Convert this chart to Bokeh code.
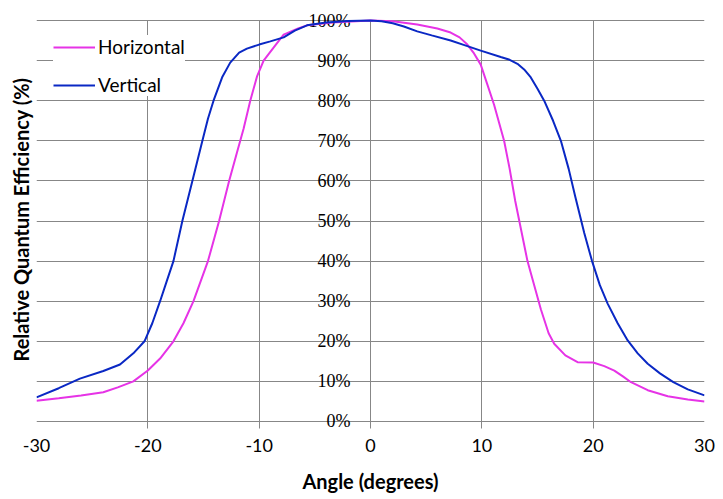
from bokeh.plotting import figure
from bokeh.models import FixedTicker, ColumnDataSource, Legend, LegendItem, LabelSet
from bokeh.embed import file_html
from bokeh.resources import INLINE

# Data (angle in degrees, relative QE in %)
horiz_angle = [-30, -28, -26, -24, -22.7, -21.3, -20, -18.9, -17.7, -16.8, -15.9, -14.6, -13.6,
               -12.7, -12, -11.4, -10.8, -10.2, -9.6, -8.5, -7.8, -6.5, -5.7, -3, 0, 2, 4.2,
               6, 7.2, 8.0, 8.7, 9.3, 9.9, 10.5, 11.1, 11.7, 12.0, 12.5, 13, 14.1, 15.3, 16,
               16.5, 17.5, 18.6, 20, 21, 21.9, 22.7, 23.4, 24.9, 26.7, 28.5, 30]
horiz_qe = [5.2, 5.8, 6.5, 7.3, 8.5, 10, 12.7, 15.7, 20, 24.5, 30, 40, 50,
            60, 67, 73, 80, 86, 90, 94, 96.5, 98, 98.8, 99.6, 100, 99.8, 99,
            98, 97, 95.8, 94, 91.8, 89, 84, 79, 73, 70, 63, 55, 40, 28, 22,
            19.4, 16.5, 14.8, 14.7, 13.8, 12.7, 11.2, 9.8, 7.8, 6.3, 5.5, 5]

vert_angle = [-30, -28, -26.1, -24, -22.5, -21.3, -20.3, -19.6, -18.9, -18.3, -17.7, -16.9,
              -16.0, -15.1, -14.6, -14.1, -13.3, -12.6, -11.8, -11.1, -10, -9, -7.8, -6.8,
              -5.7, -4, -2, 0, 1, 2, 3, 4.2, 5.5, 7.2, 8.5, 9.9, 11.7, 12.5, 13.2, 13.8,
              14.4, 15, 15.6, 16.4, 17.1, 17.8, 18.4, 19.2, 19.9, 20.6, 21.3, 22.2, 23.1,
              24, 24.9, 26, 27.2, 28.5, 30]
vert_qe = [6, 8.3, 10.7, 12.6, 14.2, 17, 20, 24.5, 30, 35, 40, 50,
           60, 70, 75.5, 80, 86, 89.5, 92, 93, 94, 94.8, 95.8, 97.5,
           98.8, 99.5, 99.9, 100, 99.8, 99.3, 98.5, 97.3, 96.3, 95, 93.8, 92.5, 90.9, 90.2, 89.2, 87.8,
           85.8, 83, 80, 75, 70, 63, 56, 47, 40, 34, 29.4, 24.5, 20.2,
           17, 14.4, 12, 9.8, 8, 6.5]

x_ticks = [-30, -20, -10, 0, 10, 20, 30]
x_tick_labels = ["-30", "-20", "-10", "0", "10", "20", "30"]
y_ticks = [0, 10, 20, 30, 40, 50, 60, 70, 80, 90, 100]
y_tick_labels = ["0%", "10%", "20%", "30%", "40%", "50%", "60%", "70%", "80%", "90%", "100%"]

FONT = "Lato"
GRID = "#878787"
MAGENTA = "#E633E6"
BLUE = "#0A28C4"

# y range padded slightly so the 0% / 100% labels are not clipped by the frame;
# vertical grid lines stop at 100 and run below 0 to form the x tick marks.
p = figure(width=723, height=499, x_range=(-30, 30), y_range=(-1.75, 102.5),
           output_backend="svg", toolbar_location=None,
           min_border_left=36, min_border_right=19, min_border_top=10, min_border_bottom=71)
p.outline_line_color = None
p.background_fill_color = "white"
p.border_fill_color = "white"

# Grid
p.xgrid.ticker = FixedTicker(ticks=x_ticks)
p.xgrid.cross_bounds = (-5, 100)
p.ygrid.ticker = FixedTicker(ticks=y_ticks)
for g in (p.xgrid[0], p.ygrid[0]):
    g.grid_line_color = GRID
    g.grid_line_width = 1

# X axis (labels and title only; the 0% grid line is the axis line)
xa = p.xaxis[0]
xa.ticker = FixedTicker(ticks=x_ticks)
xa.major_label_overrides = {t: s for t, s in zip(x_ticks, x_tick_labels)}
xa.axis_line_color = None
xa.major_tick_line_color = None
xa.major_tick_out = 0
xa.major_tick_in = 0
xa.minor_tick_line_color = None
xa.major_label_text_font = FONT
xa.major_label_text_font_size = "18px"
xa.major_label_text_color = "black"
xa.major_label_standoff = 10
xa.axis_label = "Angle (degrees)"
xa.axis_label_text_font = FONT
xa.axis_label_text_font_style = "bold"
xa.axis_label_text_font_size = "20px"
xa.axis_label_text_color = "black"
xa.axis_label_standoff = 14

# Y axis (title only; tick labels drawn at x = 0)
ya = p.yaxis[0]
ya.ticker = FixedTicker(ticks=[])
ya.axis_line_color = None
ya.major_tick_line_color = None
ya.minor_tick_line_color = None
ya.major_label_text_font_size = "0px"
ya.axis_label = "Relative Quantum Efficiency (%)"
ya.axis_label_text_font = FONT
ya.axis_label_text_font_style = "bold"
ya.axis_label_text_font_size = "20px"
ya.axis_label_text_color = "black"
ya.axis_label_standoff = 4

lab_src = ColumnDataSource(dict(x=[0] * len(y_ticks), y=y_ticks, t=y_tick_labels))
labels = LabelSet(x="x", y="y", text="t", source=lab_src, x_offset=-20,
                  text_align="right", text_baseline="middle",
                  text_font=FONT, text_font_size="18px", text_color="black",
                  level="underlay")
p.add_layout(labels)

r_h = p.line(horiz_angle, horiz_qe, line_color=MAGENTA, line_width=2)
r_v = p.line(vert_angle, vert_qe, line_color=BLUE, line_width=2)

legend = Legend(items=[LegendItem(label="Horizontal", renderers=[r_h]),
                       LegendItem(label="Vertical", renderers=[r_v])],
                location=(17, 332))
legend.margin = 0
legend.padding = 0
legend.spacing = 15
legend.glyph_width = 42
legend.glyph_height = 18
legend.label_height = 18
legend.label_standoff = 3
legend.label_text_font = FONT
legend.label_text_font_size = "19px"
legend.label_text_color = "black"
legend.border_line_color = None
legend.background_fill_color = "white"
legend.background_fill_alpha = 1.0
p.add_layout(legend)

open("out.html", "w").write(file_html(p, INLINE))
